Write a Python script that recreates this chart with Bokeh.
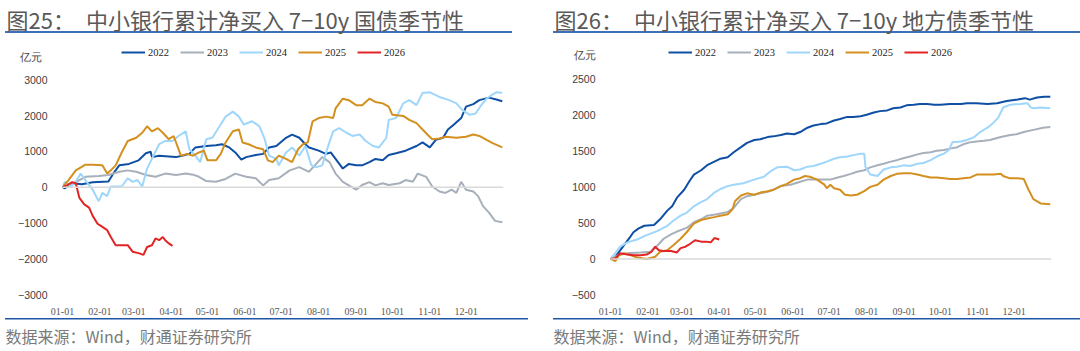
from bokeh.plotting import figure
from bokeh.models import Range1d, FixedTicker, Span, Legend, LegendItem, Title
from bokeh.layouts import row
from bokeh.embed import file_html
from bokeh.resources import INLINE

# ---------------- data ----------------
years = ["2022", "2023", "2024", "2025", "2026"]
colors = ["#0f4fa3", "#a7b0ba", "#9fd6fb", "#d4901f", "#e32424"]

month_ticks = [0, 31, 59, 90, 120, 151, 181, 212, 243, 273, 304, 334]
month_labels = ["01-01", "02-01", "03-01", "04-01", "05-01", "06-01",
                "07-01", "08-01", "09-01", "10-01", "11-01", "12-01"]

gz_yticks = [-3000, -2000, -1000, 0, 1000, 2000, 3000]
df_yticks = [-500, 0, 500, 1000, 1500, 2000, 2500]
unit_text = "亿元"

# Figure 25: 7-10y government bonds (day of year, 亿元)
gz_d_2022 = [0,2,8,16,25,38,43,47,55,63,69,73,74,80,88,94,99,105,110,119,127,132,138,143,148,152,160,166,171,177,185,190,196,201,204,212,218,222,226,232,237,243,248,254,259,265,270,276,284,293,298,304,309,315,319,324,330,334,340,345,353,359,364]
gz_v_2022 = [0,-30,110,80,140,160,430,610,650,750,950,990,840,880,860,840,880,930,1110,1150,1170,1200,1110,970,770,840,900,930,1110,1150,1380,1470,1380,1200,1110,1020,930,970,790,520,650,610,610,700,790,750,900,950,1020,1150,1250,1110,1320,1380,1610,1750,1930,2250,2320,2430,2500,2450,2400]

gz_d_2023 = [0,8,14,19,30,38,47,54,61,69,77,85,94,102,108,113,119,127,135,143,152,160,166,171,179,188,196,204,210,215,221,226,232,237,243,248,254,259,265,270,279,284,290,294,301,306,312,317,322,326,330,334,340,344,348,353,358,364]
gz_v_2023 = [0,80,200,290,310,340,430,470,430,340,290,380,340,380,350,290,170,150,230,380,290,250,50,200,250,470,560,430,650,840,700,380,150,50,-70,60,140,50,110,60,110,200,150,380,290,20,-120,-160,-70,-160,150,-70,-120,-250,-530,-710,-940,-980]

gz_d_2024 = [0,2,7,11,15,20,25,30,33,37,40,49,54,58,62,66,70,76,80,85,91,96,102,105,110,114,119,124,130,135,141,146,150,157,163,167,171,177,179,185,190,196,201,206,210,215,219,224,229,235,240,246,251,257,262,268,270,276,282,287,293,298,304,312,320,326,331,337,342,346,351,356,359,364]
gz_v_2024 = [0,150,20,150,380,150,-70,-390,-160,-250,20,20,250,150,200,20,520,930,1200,1290,1290,1430,1560,1060,880,700,1340,1380,1700,1970,2110,1970,1750,1840,1700,1380,880,790,610,970,1110,880,1150,610,560,610,1060,1560,1650,1520,1430,1470,1290,1150,1110,1380,1880,1930,2340,2430,2290,2630,2650,2520,2430,2340,2150,2020,2060,2260,2470,2590,2650,2640]

gz_d_2025 = [0,5,11,19,25,33,37,40,44,49,54,61,66,70,74,79,83,88,92,98,103,108,113,117,120,127,131,135,141,146,149,154,160,166,170,174,179,185,190,195,199,203,207,212,218,224,226,232,237,243,248,254,259,265,270,273,282,287,293,298,302,306,312,317,326,334,340,345,351,356,364]
gz_v_2025 = [0,200,470,630,630,610,380,470,610,970,1290,1380,1520,1700,1560,1650,1520,1340,1430,880,930,880,970,1020,750,750,930,1250,1560,1610,1250,1200,1110,1060,750,700,880,790,700,1060,1200,1250,1840,1930,1970,1930,2200,2470,2430,2290,2290,2470,2380,2340,2250,2020,1990,1880,1790,1610,1470,1340,1360,1410,1380,1410,1470,1430,1320,1230,1110]

gz_d_2026 = [0,4,8,11,14,18,22,25,29,33,37,40,44,54,58,63,67,70,74,77,80,83,85,88,91]
gz_v_2026 = [0,60,140,110,-300,-480,-570,-800,-1020,-1110,-1200,-1390,-1620,-1620,-1800,-1840,-1890,-1670,-1620,-1430,-1480,-1390,-1480,-1570,-1640]

# Figure 26: 7-10y local government bonds
df_d_2022 = [0,4,8,12,16,19,23,28,36,41,47,51,55,61,65,69,75,80,86,91,97,102,108,113,119,124,130,135,141,146,152,157,163,168,174,179,185,190,196,201,207,212,218,223,229,234,240,245,251,256,262,268,273,281,290,295,303,312,320,328,337,343,347,353,359,364]
df_v_2022 = [0,30,120,210,300,370,420,460,470,550,670,730,850,960,1070,1170,1230,1300,1350,1390,1410,1480,1550,1610,1650,1660,1690,1700,1720,1740,1730,1760,1820,1850,1870,1880,1920,1940,1970,1970,1980,2000,2030,2050,2060,2090,2100,2130,2140,2150,2150,2140,2140,2150,2150,2160,2160,2150,2160,2190,2210,2230,2210,2240,2250,2250]

df_d_2023 = [0,6,14,25,33,39,44,50,55,63,69,75,80,88,97,102,108,113,119,124,130,135,141,149,157,163,174,182,188,193,199,204,210,215,221,226,232,237,243,248,254,259,265,270,276,281,287,292,298,303,309,314,323,331,336,342,350,358,364]
df_v_2023 = [0,50,80,90,100,190,280,340,380,430,510,550,600,620,650,710,830,870,890,910,930,960,1010,1030,1070,1100,1100,1100,1130,1150,1180,1210,1230,1270,1300,1320,1350,1370,1400,1420,1450,1470,1480,1500,1510,1530,1550,1590,1620,1630,1640,1650,1690,1720,1730,1760,1790,1820,1830]

df_d_2024 = [0,4,8,14,22,30,39,47,52,58,63,69,74,80,86,91,97,102,110,119,127,132,138,146,152,157,163,168,174,179,185,190,196,201,207,210,211,215,221,226,232,237,243,248,254,259,265,270,276,280,283,290,295,301,306,312,317,321,325,331,339,345,348,350,356,364]
df_v_2024 = [0,80,170,230,270,330,390,460,530,600,640,730,780,830,920,970,1010,1030,1050,1100,1140,1210,1270,1280,1230,1240,1280,1290,1320,1350,1390,1410,1420,1440,1460,1460,1280,1170,1150,1240,1270,1280,1300,1290,1320,1330,1370,1420,1460,1510,1620,1630,1650,1690,1760,1820,1890,1960,2100,2140,2150,2160,2100,2090,2100,2090]

df_d_2025 = [0,4,7,11,17,22,30,37,41,47,52,58,63,69,75,80,86,91,97,101,103,108,113,119,124,130,135,141,146,152,157,161,165,171,177,179,182,185,190,194,199,204,210,215,221,226,232,237,243,248,254,259,265,270,276,281,287,292,298,303,309,317,323,325,330,337,342,346,350,356,364]
df_v_2025 = [0,-30,50,80,50,20,0,30,100,120,190,280,370,490,540,560,580,600,620,690,800,880,910,890,920,940,960,1010,1040,1100,1120,1150,1140,1100,1030,980,1030,980,960,890,880,890,940,1000,1030,1100,1150,1180,1190,1190,1170,1150,1130,1130,1120,1110,1110,1120,1130,1170,1170,1170,1180,1150,1120,1120,1110,960,830,770,760]

df_d_2026 = [0,4,8,14,19,25,30,34,37,40,44,50,55,58,62,66,70,75,79,83,86,90]
df_v_2026 = [0,10,80,60,50,50,60,100,170,120,110,110,90,150,170,210,260,240,240,230,290,270]

gz_series = [(gz_d_2022, gz_v_2022), (gz_d_2023, gz_v_2023), (gz_d_2024, gz_v_2024),
             (gz_d_2025, gz_v_2025), (gz_d_2026, gz_v_2026)]
df_series = [(df_d_2022, df_v_2022), (df_d_2023, df_v_2023), (df_d_2024, df_v_2024),
             (df_d_2025, df_v_2025), (df_d_2026, df_v_2026)]

TITLE_COLOR = "#595959"
CJK = "Noto Sans CJK SC"
FRAME_TOP = 32
FRAME_BOTTOM = 300


def make_chart(fig_no, title, series, yticks, zero_y, px_per_unit, unit_y, unit_pad,
               border_left, border_right, line_left, top_w, bottom_w, legend_x):
    # y range so that value 0 sits at canvas row zero_y with the given pixel scale
    ytop = (zero_y - FRAME_TOP) / px_per_unit
    ybot = -(FRAME_BOTTOM - zero_y) / px_per_unit
    unit_val = round((zero_y - unit_y) / px_per_unit)
    deco = {
        "background-color": "white",
        "background-image": "linear-gradient(#3f6fb8, #3f6fb8), linear-gradient(#1f55a5, #1f55a5)",
        "background-size": "%dpx 2px, %dpx 1.5px" % (top_w, bottom_w),
        "background-position": "%dpx 31px, %dpx 317.5px" % (line_left, line_left),
        "background-repeat": "no-repeat",
    }
    p = figure(width=540, height=351, output_backend="svg", toolbar_location=None,
               x_range=Range1d(0, 365), y_range=Range1d(ybot, ytop),
               min_border_left=border_left, min_border_right=border_right,
               min_border_top=FRAME_TOP, min_border_bottom=351 - FRAME_BOTTOM, styles=deco)
    p.outline_line_color = None
    p.background_fill_color = None
    p.border_fill_color = None
    p.xgrid.visible = False
    p.ygrid.visible = False

    p.title.text = "图%d：\u3000%s" % (fig_no, title)
    p.title.align = "left"
    p.title.offset = -56
    p.title.standoff = 0
    p.title.text_font = CJK
    p.title.text_font_size = "22px"
    p.title.text_font_style = "normal"
    p.title.text_color = TITLE_COLOR

    p.xaxis.ticker = FixedTicker(ticks=month_ticks)
    p.xaxis.major_label_overrides = {t: l for t, l in zip(month_ticks, month_labels)}
    p.yaxis.ticker = FixedTicker(ticks=yticks + [unit_val])
    overrides = {t: (("\u2212" + str(-t)) if t < 0 else str(t)) for t in yticks}
    overrides[unit_val] = unit_text + unit_pad
    p.yaxis.major_label_overrides = overrides
    for ax in (p.xaxis, p.yaxis):
        ax.axis_line_color = None
        ax.major_tick_line_color = None
        ax.minor_tick_line_color = None
    p.xaxis.major_label_text_font = "Liberation Serif"
    p.xaxis.major_label_text_font_size = "10px"
    p.xaxis.major_label_text_color = "#595959"
    p.xaxis.major_label_standoff = 4
    p.yaxis.major_label_text_font = "Liberation Sans"
    p.yaxis.major_label_text_font_size = "10.5px"
    p.yaxis.major_label_text_color = "#404040"
    p.yaxis.major_label_standoff = 9

    p.add_layout(Title(text="数据来源：Wind，财通证券研究所", align="left", offset=-57,
                       standoff=8, text_font=CJK, text_font_size="16px",
                       text_font_style="normal", text_color="#7a7a7a"), "below")

    p.add_layout(Span(location=0, dimension="width", line_color="#d9d9d9", line_width=1.5))

    items = []
    for (d, v), yr, c in zip(series, years, colors):
        r = p.line(d, v, line_color=c, line_width=2)
        items.append(LegendItem(label=yr, renderers=[r]))
    legend = Legend(items=items, orientation="horizontal", location=(legend_x, 239),
                    glyph_width=24, glyph_height=12, label_height=12, label_standoff=3,
                    spacing=11, padding=0, margin=0, border_line_color=None,
                    background_fill_alpha=0, label_text_font="Liberation Serif",
                    label_text_font_size="10.5px", label_text_color="#262626")
    p.add_layout(legend)
    return p


p1 = make_chart(25, "中小银行累计净买入 7\u221210y 国债季节性", gz_series, gz_yticks,
                187.6, 0.0365, 55, "\u2002", 62, 37, 5, 507, 523, 59)
p2 = make_chart(26, "中小银行累计净买入 7\u221210y 地方债季节性", df_series, df_yticks,
                260.7, 0.07347, 53, "", 70, 29, 13, 527, 527, 58)

layout = row(p1, p2)
open("out.html", "w").write(file_html(layout, INLINE))
